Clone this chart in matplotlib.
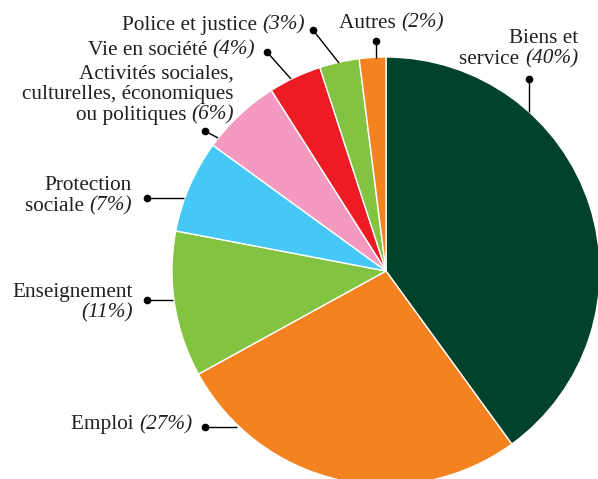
import matplotlib
matplotlib.use("Agg")
import matplotlib.pyplot as plt

# ---- data ----
categories = ["Biens et service", "Emploi", "Enseignement", "Protection sociale",
              "Activités sociales, culturelles, économiques ou politiques",
              "Vie en société", "Police et justice", "Autres"]
values = [40, 27, 11, 7, 6, 4, 3, 2]
colors = ["#00432A", "#F58220", "#82C341", "#45C8F5", "#F49AC1", "#ED1C24", "#82C341", "#F58220"]
# label text lines (name parts), the percentage is appended in italic on the last line
label_lines = [
    ["Biens et", "service "],
    ["Emploi "],
    ["Enseignement", ""],
    ["Protection", "sociale "],
    ["Activités sociales,", "culturelles, économiques", "ou politiques "],
    ["Vie en société "],
    ["Police et justice "],
    ["Autres "],
]

W, H = 598, 479
fig = plt.figure(figsize=(W / 100, H / 100), dpi=100)
ax = fig.add_axes([0, 0, 1, 1])

def Y(y):
    return H - y

ax.pie(values, colors=colors, startangle=90, counterclock=False,
       center=(386, Y(271)), radius=214, frame=True,
       wedgeprops=dict(edgecolor="white", linewidth=1.0))
ax.set_xlim(0, W)
ax.set_ylim(0, H)
ax.axis("off")

FONT = "Liberation Serif"
FS = 15.3
TXT = "#231F20"
renderer = fig.canvas.get_renderer()

def width_of(s, style):
    if not s:
        return 0.0
    t = ax.text(0, 0, s, fontsize=FS, family=FONT, style=style)
    bb = t.get_window_extent(renderer=renderer)
    t.remove()
    return bb.width

def put_line(segments, x, y, align):
    ws = [width_of(s, st) for s, st in segments]
    total = sum(ws)
    if align == "right":
        x0 = x - total
    elif align == "center":
        x0 = x - total / 2
    else:
        x0 = x
    for (s, st), w in zip(segments, ws):
        if s:
            ax.text(x0, Y(y), s, fontsize=FS, family=FONT, style=st, color=TXT,
                    ha="left", va="center")
        x0 += w

# layout: (anchor x, first line y, line step, alignment), dot, line end
layout = [
    (578, 38, 21, "right", (529, 79), (529, 112)),
    (192, 425, 21, "right", (205, 427), (237, 427)),
    (133, 292, 21, "right", (147, 300), (173, 300)),
    (132, 185, 21, "right", (147, 198), (184, 198)),
    (234, 74, 20.5, "right", (205, 131), (218, 138)),
    (255, 50, 21, "right", (267, 52), (291, 79)),
    (305, 25, 21, "right", (313, 30), (339, 63)),
    (391, 23, 21, "center", (376, 41), (376, 58)),
]

for lines, v, (lx, ly, step, al, dot, end) in zip(label_lines, values, layout):
    for i, ln in enumerate(lines):
        segs = [(ln, "normal")]
        if i == len(lines) - 1:
            segs.append((f"({v}%)", "italic"))
        put_line(segs, lx, ly + i * step, al)
    ax.plot([dot[0], end[0]], [Y(dot[1]), Y(end[1])], color="black", lw=1.0,
            solid_capstyle="butt", zorder=5)
    ax.plot([dot[0]], [Y(dot[1])], marker="o", ms=4.5, color="black", zorder=6)

fig.savefig("out.png", dpi=100)
